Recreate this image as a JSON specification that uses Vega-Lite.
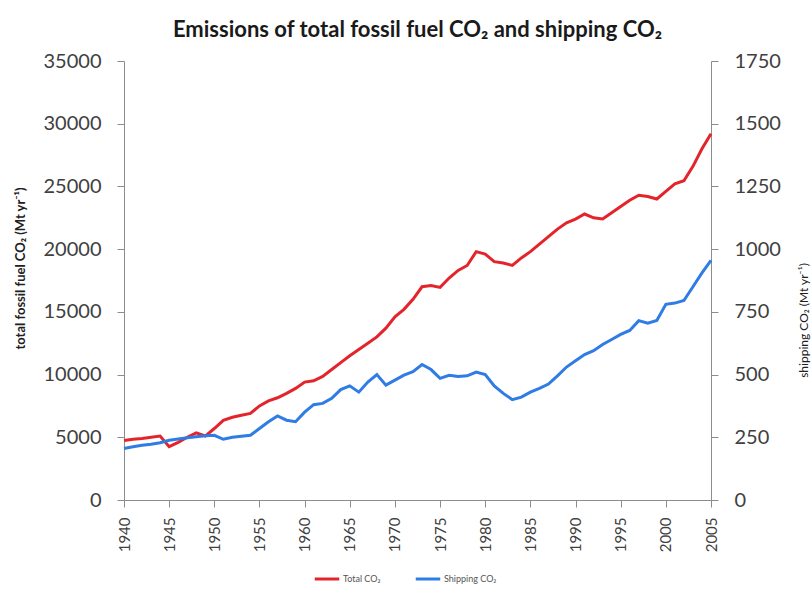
{
  "$schema": "https://vega.github.io/schema/vega-lite/v6.json",
  "autosize": {"type": "none"},
  "width": 587,
  "height": 439,
  "padding": {"left": 124, "top": 61, "right": 100, "bottom": 90},
  "background": "white",
  "config": {
    "font": "Lato",
    "view": {"stroke": null},
    "axis": {"grid": false, "domainColor": "#8c8c8c", "tickColor": "#8c8c8c", "labelColor": "#404040", "titleColor": "#202020", "labelFont": "Lato", "titleFont": "Lato"}
  },
  "title": {
    "text": "Emissions of total fossil fuel CO₂ and shipping CO₂",
    "font": "Lato",
    "fontSize": 22,
    "fontWeight": "bold",
    "color": "#1a1a1a",
    "anchor": "middle",
    "baseline": "alphabetic",
    "offset": -8
  },
  "data": {
    "values": [
      {"year": 1940, "total": 4750, "shipping": 205},
      {"year": 1941, "total": 4850, "shipping": 212},
      {"year": 1942, "total": 4900, "shipping": 218},
      {"year": 1943, "total": 5000, "shipping": 222},
      {"year": 1944, "total": 5100, "shipping": 228},
      {"year": 1945, "total": 4250, "shipping": 238},
      {"year": 1946, "total": 4600, "shipping": 243},
      {"year": 1947, "total": 5000, "shipping": 248},
      {"year": 1948, "total": 5350, "shipping": 252},
      {"year": 1949, "total": 5100, "shipping": 256},
      {"year": 1950, "total": 5700, "shipping": 258},
      {"year": 1951, "total": 6350, "shipping": 242},
      {"year": 1952, "total": 6600, "shipping": 250},
      {"year": 1953, "total": 6750, "shipping": 254},
      {"year": 1954, "total": 6900, "shipping": 258},
      {"year": 1955, "total": 7500, "shipping": 285},
      {"year": 1956, "total": 7900, "shipping": 312},
      {"year": 1957, "total": 8150, "shipping": 335},
      {"year": 1958, "total": 8500, "shipping": 318},
      {"year": 1959, "total": 8900, "shipping": 312},
      {"year": 1960, "total": 9400, "shipping": 350},
      {"year": 1961, "total": 9500, "shipping": 380},
      {"year": 1962, "total": 9850, "shipping": 385},
      {"year": 1963, "total": 10400, "shipping": 405},
      {"year": 1964, "total": 10950, "shipping": 440},
      {"year": 1965, "total": 11500, "shipping": 455},
      {"year": 1966, "total": 12000, "shipping": 430},
      {"year": 1967, "total": 12500, "shipping": 470},
      {"year": 1968, "total": 13000, "shipping": 500},
      {"year": 1969, "total": 13700, "shipping": 458},
      {"year": 1970, "total": 14600, "shipping": 478},
      {"year": 1971, "total": 15200, "shipping": 498},
      {"year": 1972, "total": 16000, "shipping": 512},
      {"year": 1973, "total": 17000, "shipping": 540},
      {"year": 1974, "total": 17100, "shipping": 520},
      {"year": 1975, "total": 16950, "shipping": 485},
      {"year": 1976, "total": 17700, "shipping": 497},
      {"year": 1977, "total": 18300, "shipping": 492},
      {"year": 1978, "total": 18700, "shipping": 495},
      {"year": 1979, "total": 19800, "shipping": 510},
      {"year": 1980, "total": 19600, "shipping": 500},
      {"year": 1981, "total": 19000, "shipping": 455},
      {"year": 1982, "total": 18900, "shipping": 425},
      {"year": 1983, "total": 18700, "shipping": 400},
      {"year": 1984, "total": 19300, "shipping": 410},
      {"year": 1985, "total": 19800, "shipping": 430},
      {"year": 1986, "total": 20400, "shipping": 445},
      {"year": 1987, "total": 21000, "shipping": 462},
      {"year": 1988, "total": 21600, "shipping": 495},
      {"year": 1989, "total": 22100, "shipping": 530},
      {"year": 1990, "total": 22400, "shipping": 555},
      {"year": 1991, "total": 22800, "shipping": 580},
      {"year": 1992, "total": 22500, "shipping": 595},
      {"year": 1993, "total": 22400, "shipping": 620},
      {"year": 1994, "total": 22900, "shipping": 640},
      {"year": 1995, "total": 23400, "shipping": 660},
      {"year": 1996, "total": 23900, "shipping": 676},
      {"year": 1997, "total": 24300, "shipping": 715},
      {"year": 1998, "total": 24200, "shipping": 705},
      {"year": 1999, "total": 24000, "shipping": 716},
      {"year": 2000, "total": 24600, "shipping": 780},
      {"year": 2001, "total": 25200, "shipping": 785},
      {"year": 2002, "total": 25450, "shipping": 795},
      {"year": 2003, "total": 26600, "shipping": 850},
      {"year": 2004, "total": 28000, "shipping": 905},
      {"year": 2005, "total": 29200, "shipping": 955}
    ]
  },
  "encoding": {
    "x": {
      "field": "year",
      "type": "quantitative",
      "scale": {"domain": [1940, 2005], "nice": false, "zero": false},
      "axis": {
        "title": null,
        "values": [1940, 1945, 1950, 1955, 1960, 1965, 1970, 1975, 1980, 1985, 1990, 1995, 2000, 2005],
        "format": "d",
        "labelAngle": -90,
        "labelAlign": "right",
        "labelBaseline": "middle",
        "labelFontSize": 15,
        "labelPadding": 10,
        "tickSize": 7
      }
    }
  },
  "layer": [
    {
      "mark": {"type": "line", "strokeWidth": 3},
      "encoding": {
        "y": {
          "field": "total",
          "type": "quantitative",
          "scale": {"domain": [0, 35000], "nice": false},
          "axis": {
            "orient": "left",
            "values": [0, 5000, 10000, 15000, 20000, 25000, 30000, 35000],
            "format": "d",
            "labelFontSize": 20,
            "labelPadding": 16,
            "tickSize": 7,
            "title": "total fossil fuel CO₂ (Mt yr⁻¹)",
            "titleFontSize": 13,
            "titleFontWeight": "bold",
            "titleAngle": -90,
            "titleX": -104,
            "titleY": 207,
            "titleAlign": "center",
            "titleBaseline": "middle"
          }
        },
        "color": {"datum": "Total CO₂"}
      }
    },
    {
      "mark": {"type": "line", "strokeWidth": 3},
      "encoding": {
        "y": {
          "field": "shipping",
          "type": "quantitative",
          "scale": {"domain": [0, 1750], "nice": false},
          "axis": {
            "orient": "right",
            "values": [0, 250, 500, 750, 1000, 1250, 1500, 1750],
            "format": "d",
            "labelFontSize": 20,
            "labelPadding": 16,
            "tickSize": 7,
            "title": "shipping CO₂ (Mt yr⁻¹)",
            "titleFontSize": 12,
            "titleFontWeight": "normal",
            "titleAngle": -90,
            "titleX": 92,
            "titleY": 259,
            "titleAlign": "center",
            "titleBaseline": "middle"
          }
        },
        "color": {
          "datum": "Shipping CO₂",
          "scale": {"domain": ["Total CO₂", "Shipping CO₂"], "range": ["#e3242b", "#2e7ce4"]},
          "legend": {
            "title": null,
            "orient": "none",
            "direction": "horizontal",
            "legendX": 189,
            "legendY": 504,
            "symbolType": "stroke",
            "symbolStrokeWidth": 3,
            "symbolSize": 600,
            "labelFontSize": 9,
            "labelColor": "#555555",
            "labelOffset": 2,
            "columnPadding": 28
          }
        }
      }
    }
  ],
  "resolve": {"scale": {"y": "independent"}}
}
